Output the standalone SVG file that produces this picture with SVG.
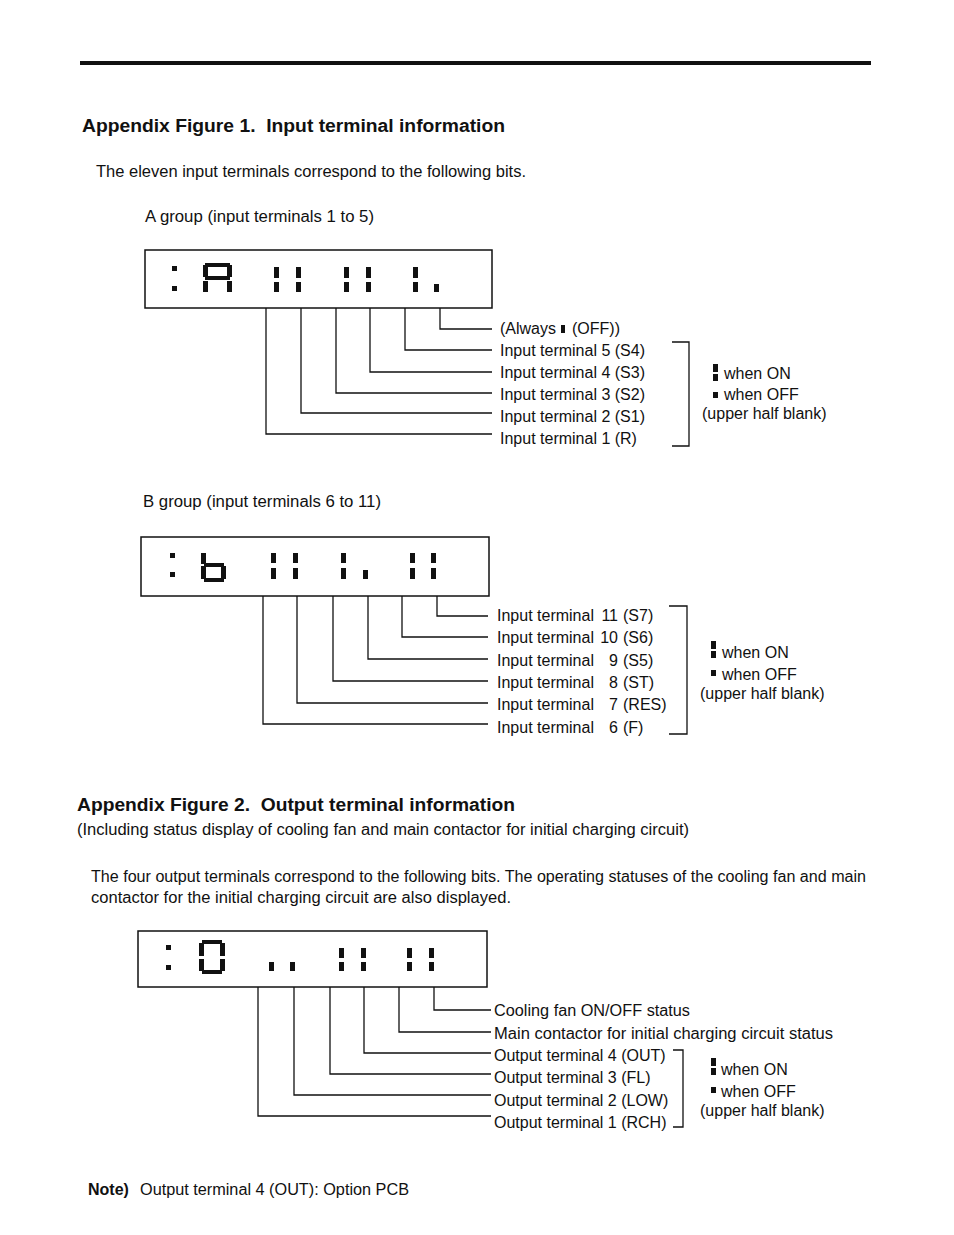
<svg xmlns="http://www.w3.org/2000/svg" width="954" height="1235" viewBox="0 0 954 1235">
<style>
text{font-family:"Liberation Sans",Arial,sans-serif;fill:#111;}
.t{font-size:16px;}
.h{font-size:18px;font-weight:bold;}
.b{font-weight:bold;}
.box{fill:none;stroke:#111;stroke-width:1.5;}
.seg{fill:#111;}
.ln{fill:none;stroke:#111;stroke-width:1.3;}
</style>
<rect width="954" height="1235" fill="#fff"/>
<rect x="80" y="61" width="791" height="4" fill="#111"/>

<text class="h" x="82" y="132" xml:space="preserve" textLength="423" lengthAdjust="spacingAndGlyphs">Appendix Figure 1.  Input terminal information</text>
<text class="t" x="96" y="177" textLength="430" lengthAdjust="spacingAndGlyphs">The eleven input terminals correspond to the following bits.</text>
<text class="t" x="145" y="222" textLength="229" lengthAdjust="spacingAndGlyphs">A group (input terminals 1 to 5)</text>

<!-- Display A -->
<g id="displayA">
<rect class="box" x="145" y="250" width="347" height="58"/>
<rect class="seg" x="172" y="266" width="5" height="5"/>
<rect class="seg" x="172" y="286" width="5" height="5"/>
<rect class="seg" x="205" y="263" width="25" height="4"/>
<rect class="seg" x="203" y="265" width="5" height="12"/>
<rect class="seg" x="227" y="265" width="5" height="12"/>
<rect class="seg" x="205" y="276" width="25" height="4"/>
<rect class="seg" x="203" y="281" width="5" height="11"/>
<rect class="seg" x="227" y="281" width="5" height="11"/>
<rect class="seg" x="274" y="267" width="5" height="11"/><rect class="seg" x="274" y="282" width="5" height="10"/>
<rect class="seg" x="296" y="267" width="5" height="11"/><rect class="seg" x="296" y="282" width="5" height="10"/>
<rect class="seg" x="344" y="267" width="5" height="11"/><rect class="seg" x="344" y="282" width="5" height="10"/>
<rect class="seg" x="366" y="267" width="5" height="11"/><rect class="seg" x="366" y="282" width="5" height="10"/>
<rect class="seg" x="413" y="267" width="5" height="11"/><rect class="seg" x="413" y="282" width="5" height="10"/>
<rect class="seg" x="434" y="284" width="5" height="8"/>
</g>
<g id="labelsA">
<text class="t" x="500" y="334">(Always</text>
<rect class="seg" x="561" y="325" width="4" height="8"/>
<text class="t" x="572" y="334">(OFF))</text>
<text class="t" x="500" y="356">Input terminal 5 (S4)</text>
<text class="t" x="500" y="378">Input terminal 4 (S3)</text>
<text class="t" x="500" y="400">Input terminal 3 (S2)</text>
<text class="t" x="500" y="422">Input terminal 2 (S1)</text>
<text class="t" x="500" y="444">Input terminal 1 (R)</text>
</g>
<g id="legendA">
<path class="ln" d="M672 342 H689 V446 H672"/>
<rect class="seg" x="713" y="364" width="5" height="8"/><rect class="seg" x="713" y="374" width="5" height="7"/>
<text class="t" x="724" y="379">when ON</text>
<rect class="seg" x="713" y="392" width="5" height="6"/>
<text class="t" x="724" y="400">when OFF</text>
<text class="t" x="702" y="419">(upper half blank)</text>
</g>

<text class="t" x="143" y="507" textLength="238" lengthAdjust="spacingAndGlyphs">B group (input terminals 6 to 11)</text>

<!-- Display B -->
<g id="displayB">
<rect class="box" x="141" y="537" width="348" height="59"/>
<rect class="seg" x="170" y="553" width="5" height="5"/>
<rect class="seg" x="170" y="572" width="5" height="5"/>
<rect class="seg" x="201" y="553" width="5" height="11"/>
<rect class="seg" x="204" y="563" width="20" height="4"/>
<rect class="seg" x="201" y="566" width="5" height="13"/>
<rect class="seg" x="221" y="566" width="5" height="13"/>
<rect class="seg" x="204" y="578" width="20" height="4"/>
<rect class="seg" x="271" y="553" width="5" height="10"/><rect class="seg" x="271" y="568" width="5" height="11"/>
<rect class="seg" x="293" y="553" width="5" height="10"/><rect class="seg" x="293" y="568" width="5" height="11"/>
<rect class="seg" x="341" y="553" width="5" height="10"/><rect class="seg" x="341" y="568" width="5" height="11"/>
<rect class="seg" x="363" y="570" width="5" height="9"/>
<rect class="seg" x="410" y="553" width="5" height="10"/><rect class="seg" x="410" y="568" width="5" height="11"/>
<rect class="seg" x="431" y="553" width="5" height="10"/><rect class="seg" x="431" y="568" width="5" height="11"/>
</g>
<g id="labelsB">
<text class="t" x="497" y="621">Input terminal</text><text class="t" x="618" y="621" text-anchor="end">11</text><text class="t" x="623" y="621">(S7)</text>
<text class="t" x="497" y="643">Input terminal</text><text class="t" x="618" y="643" text-anchor="end">10</text><text class="t" x="623" y="643">(S6)</text>
<text class="t" x="497" y="666">Input terminal</text><text class="t" x="618" y="666" text-anchor="end">9</text><text class="t" x="623" y="666">(S5)</text>
<text class="t" x="497" y="688">Input terminal</text><text class="t" x="618" y="688" text-anchor="end">8</text><text class="t" x="623" y="688">(ST)</text>
<text class="t" x="497" y="710">Input terminal</text><text class="t" x="618" y="710" text-anchor="end">7</text><text class="t" x="623" y="710">(RES)</text>
<text class="t" x="497" y="733">Input terminal</text><text class="t" x="618" y="733" text-anchor="end">6</text><text class="t" x="623" y="733">(F)</text>
</g>
<g id="legendB">
<path class="ln" d="M669 606 H687 V734 H669"/>
<rect class="seg" x="711" y="641" width="5" height="8"/><rect class="seg" x="711" y="651" width="5" height="7"/>
<text class="t" x="722" y="658">when ON</text>
<rect class="seg" x="711" y="670" width="5" height="6"/>
<text class="t" x="722" y="680">when OFF</text>
<text class="t" x="700" y="699">(upper half blank)</text>
</g>

<text class="h" x="77" y="811" xml:space="preserve" textLength="438" lengthAdjust="spacingAndGlyphs">Appendix Figure 2.  Output terminal information</text>
<text class="t" x="77" y="835" textLength="612" lengthAdjust="spacingAndGlyphs">(Including status display of cooling fan and main contactor for initial charging circuit)</text>
<text class="t" x="91" y="882" textLength="775" lengthAdjust="spacingAndGlyphs">The four output terminals correspond to the following bits. The operating statuses of the cooling fan and main</text>
<text class="t" x="91" y="903" textLength="420" lengthAdjust="spacingAndGlyphs">contactor for the initial charging circuit are also displayed.</text>

<!-- Display C -->
<g id="displayC">
<rect class="box" x="138" y="931" width="349" height="56"/>
<rect class="seg" x="166" y="945" width="5" height="5"/>
<rect class="seg" x="166" y="965" width="5" height="5"/>
<rect class="seg" x="202" y="940" width="20" height="4"/>
<rect class="seg" x="199" y="943" width="5" height="13"/>
<rect class="seg" x="220" y="943" width="5" height="13"/>
<rect class="seg" x="199" y="959" width="5" height="12"/>
<rect class="seg" x="220" y="959" width="5" height="12"/>
<rect class="seg" x="202" y="970" width="20" height="4"/>
<rect class="seg" x="269" y="962" width="5" height="9"/>
<rect class="seg" x="290" y="962" width="5" height="9"/>
<rect class="seg" x="339" y="948" width="5" height="10"/><rect class="seg" x="339" y="962" width="5" height="9"/>
<rect class="seg" x="361" y="948" width="5" height="10"/><rect class="seg" x="361" y="962" width="5" height="9"/>
<rect class="seg" x="407" y="948" width="5" height="10"/><rect class="seg" x="407" y="962" width="5" height="9"/>
<rect class="seg" x="429" y="948" width="5" height="10"/><rect class="seg" x="429" y="962" width="5" height="9"/>
</g>
<g id="labelsC">
<text class="t" x="494" y="1016" textLength="196" lengthAdjust="spacingAndGlyphs">Cooling fan ON/OFF status</text>
<text class="t" x="494" y="1039" textLength="339" lengthAdjust="spacingAndGlyphs">Main contactor for initial charging circuit status</text>
<text class="t" x="494" y="1061">Output terminal 4 (OUT)</text>
<text class="t" x="494" y="1083">Output terminal 3 (FL)</text>
<text class="t" x="494" y="1106">Output terminal 2 (LOW)</text>
<text class="t" x="494" y="1128">Output terminal 1 (RCH)</text>
</g>
<g id="legendC">
<path class="ln" d="M673 1050 H683 V1127 H673"/>
<rect class="seg" x="711" y="1058" width="5" height="8"/><rect class="seg" x="711" y="1068" width="5" height="7"/>
<text class="t" x="721" y="1075">when ON</text>
<rect class="seg" x="711" y="1087" width="5" height="6"/>
<text class="t" x="721" y="1097">when OFF</text>
<text class="t" x="700" y="1116">(upper half blank)</text>
</g>

<g id="connectors">
<path class="ln" d="M440 308 V329 H492"/>
<path class="ln" d="M405 308 V350 H492"/>
<path class="ln" d="M370 308 V372 H492"/>
<path class="ln" d="M336 308 V393 H492"/>
<path class="ln" d="M301 308 V413 H492"/>
<path class="ln" d="M266 308 V434 H492"/>

<path class="ln" d="M437 596 V616 H488"/>
<path class="ln" d="M402 596 V637 H488"/>
<path class="ln" d="M368 596 V659 H488"/>
<path class="ln" d="M333 596 V681 H488"/>
<path class="ln" d="M297 596 V703 H488"/>
<path class="ln" d="M263 596 V724 H488"/>

<path class="ln" d="M434 987 V1010 H491"/>
<path class="ln" d="M399 987 V1032 H491"/>
<path class="ln" d="M364 987 V1053 H491"/>
<path class="ln" d="M330 987 V1074 H491"/>
<path class="ln" d="M294 987 V1095 H491"/>
<path class="ln" d="M258 987 V1116 H491"/>
</g>

<text class="t" x="88" y="1195"><tspan class="b">Note)</tspan></text>
<text class="t" x="140" y="1195" textLength="269" lengthAdjust="spacingAndGlyphs">Output terminal 4 (OUT): Option PCB</text>
</svg>
